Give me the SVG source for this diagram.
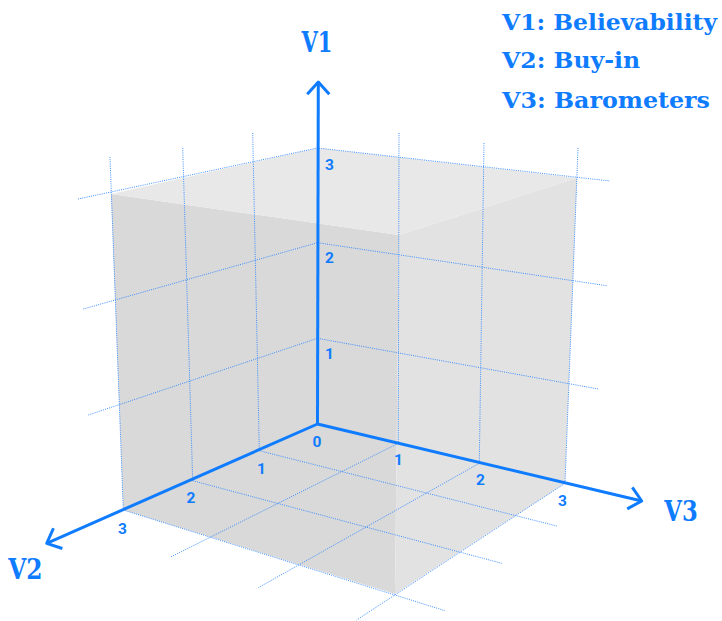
<svg xmlns="http://www.w3.org/2000/svg" width="722" height="621" viewBox="0 0 722 621">
<defs>
<style>
.grid{fill:none;stroke:#2a84ff;stroke-width:1;stroke-dasharray:1 1.2;opacity:0.9}
.axis{fill:none;stroke:#0f7cff;stroke-width:3}
.tick{font-family:Roboto,"Liberation Sans",sans-serif;font-weight:700;font-size:15.5px;fill:#0f7cff;text-anchor:middle}
.lab{font-family:"DejaVu Serif","Liberation Serif",serif;font-weight:700;fill:#0f7cff}
</style>
<marker id="arr" markerUnits="userSpaceOnUse" viewBox="-20 -15 30 30" markerWidth="30" markerHeight="30" refX="0" refY="0" orient="auto" overflow="visible">
<path d="M -12.26 -11.04 L 0 0 L -12.26 11.04" fill="none" stroke="#0f7cff" stroke-width="3" stroke-linejoin="round"/>
</marker>
</defs>
<rect width="722" height="621" fill="#ffffff"/>
<g id="faces">
<polygon id="face-left" points="111,194 399,235 395,594 123.3,510" fill="#d9d9d9"/>
<polygon id="face-right" points="399,235 577,178 565,483.3 395,594" fill="#e2e2e2"/>
<polygon id="face-top" points="317.5,148 577,178 399,235 111,194" fill="#e8e8e8"/>
</g>
<g id="grid">
<polyline class="grid" points="88.3,415 317.5,338.3 598.3,389"/>
<polyline class="grid" points="83.3,309 317.5,242.7 606.7,285.7"/>
<polyline class="grid" points="78,199 317.5,148 610,181"/>
<line class="grid" x1="252.7" y1="133" x2="259.3" y2="450.7"/>
<line class="grid" x1="182.7" y1="148" x2="192.7" y2="480.7"/>
<line class="grid" x1="110" y1="157" x2="123.3" y2="510"/>
<line class="grid" x1="399" y1="133" x2="398.3" y2="443.3"/>
<line class="grid" x1="484" y1="143" x2="479.3" y2="463.3"/>
<line class="grid" x1="578" y1="148" x2="565" y2="483.3"/>
<line class="grid" x1="259.3" y1="450.7" x2="556.7" y2="526"/>
<line class="grid" x1="192.7" y1="480.7" x2="501.7" y2="563.3"/>
<line class="grid" x1="123.3" y1="510" x2="445" y2="610.7"/>
<line class="grid" x1="398.3" y1="443.3" x2="170" y2="557.3"/>
<line class="grid" x1="479.3" y1="463.3" x2="258.3" y2="587.7"/>
<line class="grid" x1="565" y1="483.3" x2="356.7" y2="620"/>
</g>
<g id="axes">
<line id="axis-v1" class="axis" x1="317.5" y1="424" x2="318.3" y2="82" marker-end="url(#arr)"/>
<line id="axis-v2" class="axis" x1="317.5" y1="424" x2="46.7" y2="543.3" marker-end="url(#arr)"/>
<line id="axis-v3" class="axis" x1="317.5" y1="424" x2="641.7" y2="501" marker-end="url(#arr)"/>
</g>
<g id="ticks">
<text class="tick" x="317" y="446.5">0</text>
<text class="tick" x="329.5" y="359">1</text>
<text class="tick" x="329.5" y="263">2</text>
<text class="tick" x="329.5" y="170">3</text>
<text class="tick" x="261.5" y="474">1</text>
<text class="tick" x="191" y="503">2</text>
<text class="tick" x="122.5" y="534">3</text>
<text class="tick" x="398.5" y="465">1</text>
<text class="tick" x="480.5" y="485">2</text>
<text class="tick" x="562.5" y="506">3</text>
</g>
<g id="axis-labels">
<text class="lab" x="301.5" y="52.3" font-size="27" textLength="31" lengthAdjust="spacingAndGlyphs">V1</text>
<text class="lab" x="8.3" y="579.3" font-size="27" textLength="34.3" lengthAdjust="spacingAndGlyphs">V2</text>
<text class="lab" x="664.3" y="520.5" font-size="27" textLength="33.4" lengthAdjust="spacingAndGlyphs">V3</text>
</g>
<g id="legend">
<text class="lab" x="502" y="29.5" font-size="23" textLength="215" lengthAdjust="spacingAndGlyphs">V1: Believability</text>
<text class="lab" x="502" y="68" font-size="23" textLength="138" lengthAdjust="spacingAndGlyphs">V2: Buy-in</text>
<text class="lab" x="502" y="108" font-size="23" textLength="208" lengthAdjust="spacingAndGlyphs">V3: Barometers</text>
</g>
</svg>
